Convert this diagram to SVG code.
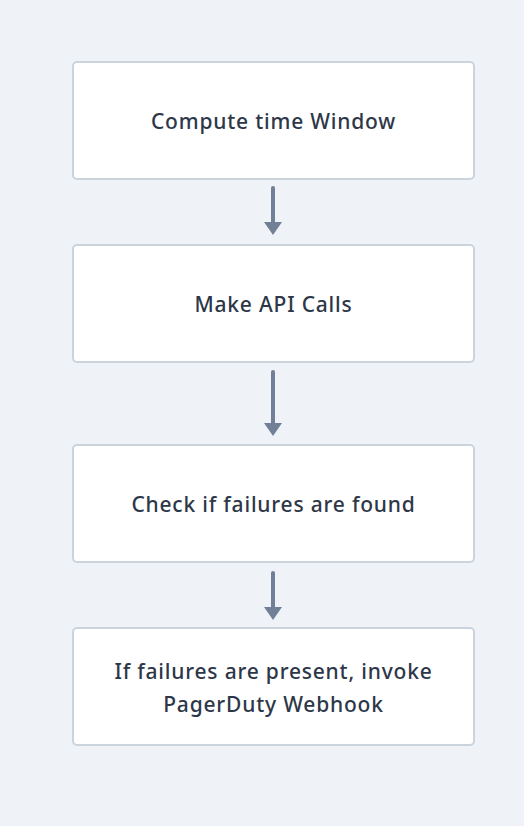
<svg xmlns="http://www.w3.org/2000/svg" width="524" height="826" viewBox="0 0 524 826">
<defs>
<style>
.box{fill:#ffffff;stroke:#cbd3dd;stroke-width:2}
.lbl{font-family:"Noto Sans","Liberation Sans",sans-serif;font-size:21px;letter-spacing:0.8px;font-weight:500;fill:#2d3748;text-anchor:middle}
.conn{stroke:#718096;stroke-width:4;stroke-linecap:round;fill:none}
.head{fill:#718096}
</style>
</defs>
<rect width="524" height="826" fill="#eff2f6"/>
<g id="connectors">
<line class="conn" x1="273" y1="188" x2="273" y2="224"/>
<path class="head" d="M264,222 L282,222 L273,235 Z"/>
<line class="conn" x1="273" y1="372" x2="273" y2="425"/>
<path class="head" d="M264,423 L282,423 L273,436 Z"/>
<line class="conn" x1="273" y1="573" x2="273" y2="609"/>
<path class="head" d="M264,607 L282,607 L273,620 Z"/>
</g>
<g id="node1">
<rect class="box" x="73" y="62" width="401" height="117" rx="4"/>
<text class="lbl" x="273.5" y="129">Compute time Window</text>
</g>
<g id="node2">
<rect class="box" x="73" y="245" width="401" height="117" rx="4"/>
<text class="lbl" x="273.5" y="312">Make API Calls</text>
</g>
<g id="node3">
<rect class="box" x="73" y="445" width="401" height="117" rx="4"/>
<text class="lbl" x="273.5" y="512">Check if failures are found</text>
</g>
<g id="node4">
<rect class="box" x="73" y="628" width="401" height="117" rx="4"/>
<text class="lbl" x="273.5" y="679">If failures are present, invoke</text>
<text class="lbl" x="273.5" y="712">PagerDuty Webhook</text>
</g>
</svg>
